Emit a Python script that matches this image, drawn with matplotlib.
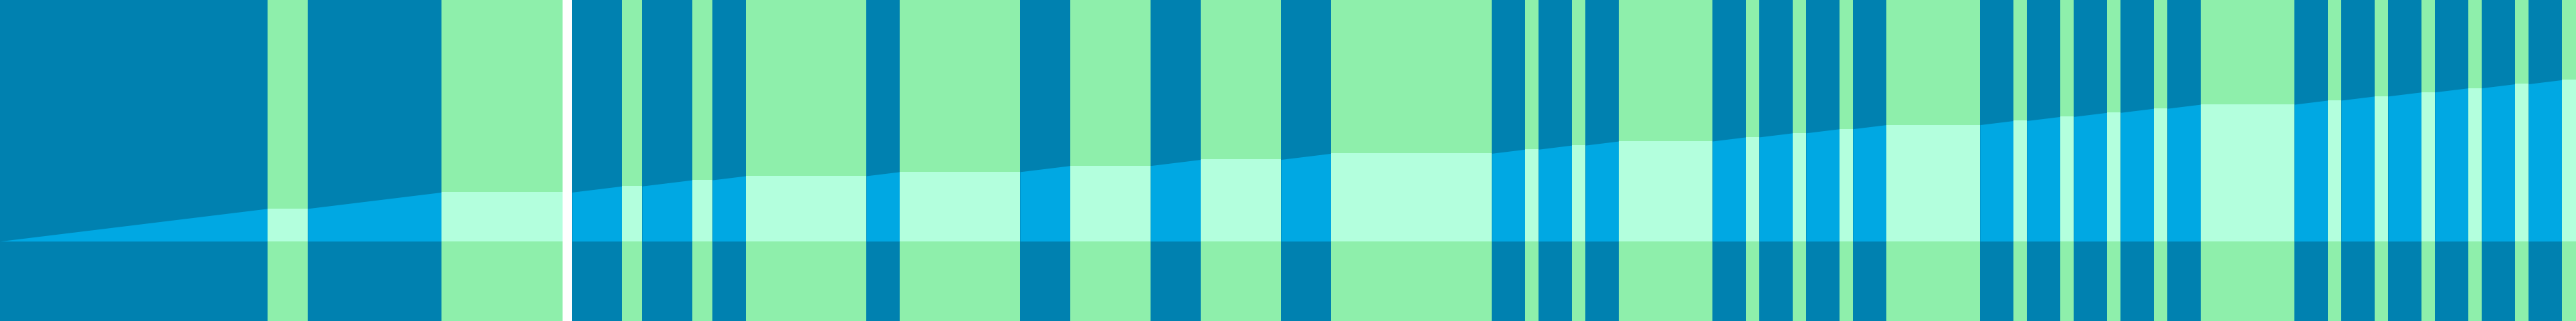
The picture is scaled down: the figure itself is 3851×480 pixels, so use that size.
import numpy as np
import matplotlib
matplotlib.use('Agg')
import matplotlib.pyplot as plt

# band layout (pixels); 'd' = dark band, 'g' = green band, 'w' = gap
band_kind = ['d', 'g', 'd', 'g', 'w', 'd', 'g', 'd', 'g', 'd', 'g', 'd', 'g', 'd', 'g', 'd', 'g',
             'd', 'g', 'd', 'g', 'd', 'g', 'd', 'g', 'd', 'g', 'd', 'g', 'd', 'g', 'd', 'g',
             'd', 'g', 'd', 'g', 'd', 'g', 'd', 'g', 'd', 'g', 'd', 'g', 'd', 'g', 'd', 'g',
             'd', 'g', 'd', 'g', 'd', 'g']
band_width = [400, 60, 200, 181, 14, 75, 30, 75, 30, 50, 180, 50, 180, 75, 120, 75, 120,
              75, 240, 50, 20, 50, 20, 50, 140, 50, 20, 50, 20, 50, 20, 50, 140,
              50, 20, 50, 20, 50, 20, 50, 20, 50, 140, 50, 20, 50, 20, 50, 20,
              50, 20, 50, 20, 50, 21]

# the line only climbs over dark bands
rise_per_px = 0.1222
baseline_from_top = 360.7

band_color = {'d': '#0081B0', 'g': '#8EEFAB', 'w': '#FFFFFF'}
fill_color = {'d': '#00A8E3', 'g': '#B3FFDD'}

edges = np.concatenate([[0], np.cumsum(band_width)])
gain = np.array([w * rise_per_px if k == 'd' else 0.0 for k, w in zip(band_kind, band_width)])
level = np.concatenate([[0], np.cumsum(gain)])

W, H = edges[-1], 480
fig = plt.figure(figsize=(W / 100, H / 100), dpi=100)
ax = fig.add_axes([0, 0, 1, 1])
ax.set_xlim(0, W)
ax.set_ylim(-(H - baseline_from_top), baseline_from_top)
ax.axis('off')

for i, k in enumerate(band_kind):
    ax.axvspan(edges[i], edges[i + 1], color=band_color[k], lw=0, zorder=1)
    if k == 'w':
        continue
    ax.fill_between([edges[i], edges[i + 1]], [0, 0], [level[i], level[i + 1]],
                    color=fill_color[k], lw=0, zorder=2)

fig.savefig('out.png', dpi=100)
